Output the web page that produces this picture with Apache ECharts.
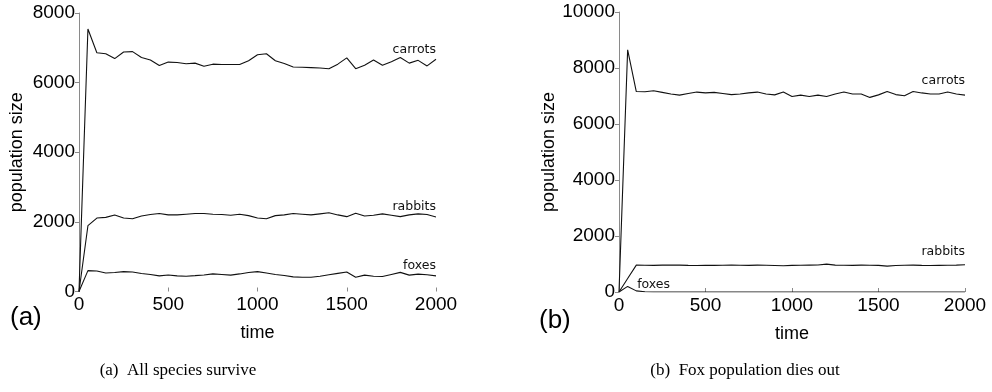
<!DOCTYPE html>
<html>
<head>
<meta charset="utf-8">
<script src="https://cdn.jsdelivr.net/npm/echarts@6/dist/echarts.min.js"></script>
<style>
  html, body { margin: 0; padding: 0; background: #fff; }
  #chart { width: 992px; height: 392px; }
</style>
</head>
<body>
<div id="chart"></div>
<script>
// Simulation time steps shared by both runs
const time = [0, 50, 100, 150, 200, 250, 300, 350, 400, 450, 500, 550, 600, 650, 700, 750, 800, 850, 900, 950,
  1000, 1050, 1100, 1150, 1200, 1250, 1300, 1350, 1400, 1450, 1500, 1550, 1600, 1650, 1700, 1750, 1800, 1850, 1900, 1950, 2000];

// Run (a): all species survive
const carrotsA = [0, 7540, 6860, 6830, 6690, 6880, 6890, 6720, 6650, 6490, 6590, 6580, 6540, 6560, 6470, 6530, 6520, 6520, 6520, 6630,
  6800, 6830, 6630, 6550, 6450, 6440, 6430, 6420, 6400, 6530, 6710, 6400, 6500, 6650, 6500, 6600, 6720, 6560, 6640, 6480, 6670];
const rabbitsA = [0, 1890, 2110, 2130, 2200, 2110, 2090, 2170, 2210, 2240, 2200, 2200, 2220, 2240, 2240, 2220, 2210, 2190, 2220, 2180,
  2110, 2090, 2180, 2200, 2240, 2220, 2200, 2230, 2260, 2200, 2150, 2250, 2170, 2190, 2230, 2190, 2150, 2200, 2230, 2210, 2140];
const foxesA = [0, 600, 590, 530, 545, 570, 560, 515, 490, 450, 475, 450, 440, 455, 475, 505, 490, 470, 505, 545,
  570, 530, 490, 460, 420, 410, 410, 440, 480, 520, 560, 410, 470, 440, 430, 490, 550, 470, 500, 480, 450];

// Run (b): fox population dies out
const carrotsB = [0, 8650, 7160, 7150, 7185, 7130, 7070, 7030, 7090, 7140, 7110, 7130, 7090, 7050, 7070, 7110, 7140, 7070, 7040, 7140,
  6980, 7030, 6980, 7030, 6980, 7070, 7140, 7070, 7070, 6950, 7040, 7160, 7050, 7010, 7160, 7110, 7070, 7070, 7140, 7070, 7030];
const rabbitsB = [0, 480, 960, 955, 950, 960, 965, 960, 950, 945, 955, 950, 955, 960, 955, 950, 960, 955, 945, 935,
  950, 955, 960, 965, 995, 960, 955, 950, 960, 955, 950, 925, 945, 955, 960, 950, 945, 950, 955, 960, 975];
const foxesB = [0, 200, 40, 10, 0, 0, 0, 0, 0, 0, 0, 0, 0, 0, 0, 0, 0, 0, 0, 0,
  0, 0, 0, 0, 0, 0, 0, 0, 0, 0, 0, 0, 0, 0, 0, 0, 0, 0, 0, 0, 0];

const xTicks = [0, 500, 1000, 1500, 2000];
const yTicksA = [0, 2000, 4000, 6000, 8000];
const yTicksB = [0, 2000, 4000, 6000, 8000, 10000];

const speciesNames = ['carrots', 'rabbits', 'foxes'];
const captions = ['(a)  All species survive', '(b)  Fox population dies out'];
const panelTags = ['(a)', '(b)'];

const SANS = 'Liberation Sans';
const LINE = '#111';
const AXIS = '#8a8a8a';

// Attach a small name tag to one point of a series
function withTag(values, idx, text, opts) {
  return values.map((v, i) => {
    const pt = [time[i], v];
    if (i !== idx) return pt;
    return {
      value: pt,
      label: Object.assign({
        show: true,
        formatter: text,
        position: 'top',
        fontFamily: 'DejaVu Sans',
        fontSize: 12.5,
        color: '#111'
      }, opts)
    };
  });
}

function lineSeries(gi, values, tagIdx, tagText, tagOpts) {
  return {
    type: 'line',
    xAxisIndex: gi,
    yAxisIndex: gi,
    data: withTag(values, tagIdx, tagText, tagOpts),
    showSymbol: true,
    symbol: 'circle',
    symbolSize: 1,
    itemStyle: { color: 'rgba(0,0,0,0)' },
    animation: false,
    silent: true,
    label: { show: false },
    labelLayout: { hideOverlap: false },
    lineStyle: { color: LINE, width: 1.1 },
    z: 3
  };
}

const plainNum = v => String(v);

function xAxisFor(gi) {
  return {
    gridIndex: gi,
    type: 'value',
    min: xTicks[0],
    max: xTicks[xTicks.length - 1],
    interval: xTicks[1] - xTicks[0],
    name: 'time',
    nameLocation: 'middle',
    nameGap: 33,
    nameTextStyle: { fontFamily: SANS, fontSize: 18, color: '#000' },
    axisLine: { show: false },
    axisTick: { show: true, inside: true, length: 4, lineStyle: { color: AXIS } },
    axisLabel: { fontFamily: SANS, fontSize: 19, color: '#000', margin: 4, formatter: plainNum },
    splitLine: { show: false }
  };
}

function yAxisFor(gi, ticks) {
  return {
    gridIndex: gi,
    type: 'value',
    min: ticks[0],
    max: ticks[ticks.length - 1],
    interval: ticks[1] - ticks[0],
    name: 'population size',
    nameLocation: 'middle',
    nameGap: 53,
    nameTextStyle: { fontFamily: SANS, fontSize: 18, color: '#000' },
    axisLine: { show: true, lineStyle: { color: AXIS, width: 1 } },
    axisTick: { show: true, inside: false, length: 4, lineStyle: { color: AXIS } },
    axisLabel: { fontFamily: SANS, fontSize: 19, color: '#000', margin: 4, formatter: plainNum },
    splitLine: { show: false }
  };
}

const last = time.length - 1;
const endTag = { align: 'right', distance: 3 };

const option = {
  backgroundColor: '#fff',
  animation: false,
  grid: [
    { left: 79, top: 13, width: 357, height: 278.5 },
    { left: 619, top: 12, width: 346, height: 280 }
  ],
  xAxis: [xAxisFor(0), xAxisFor(1)],
  yAxis: [yAxisFor(0, yTicksA), yAxisFor(1, yTicksB)],
  series: [
    lineSeries(0, carrotsA, last, speciesNames[0], endTag),
    lineSeries(0, rabbitsA, last, speciesNames[1], endTag),
    lineSeries(0, foxesA, last, speciesNames[2], endTag),
    lineSeries(1, carrotsB, last, speciesNames[0], { align: 'right', distance: 7 }),
    lineSeries(1, rabbitsB, last, speciesNames[1], { align: 'right', distance: 6 }),
    lineSeries(1, foxesB, 4, speciesNames[2], { align: 'center', distance: 0 })
  ],
  graphic: [
    { type: 'text', left: 10, top: 305, style: { text: panelTags[0], font: '26px "Liberation Sans"', fill: '#000' } },
    { type: 'text', left: 539, top: 308, style: { text: panelTags[1], font: '26px "Liberation Sans"', fill: '#000' } },
    { type: 'text', x: 178, y: 371, style: { text: captions[0], font: '17px "Liberation Serif"', fill: '#000', textAlign: 'center', textVerticalAlign: 'middle' } },
    { type: 'text', x: 745, y: 371, style: { text: captions[1], font: '17px "Liberation Serif"', fill: '#000', textAlign: 'center', textVerticalAlign: 'middle' } }
  ]
};

const chart = echarts.init(document.getElementById('chart'), null, { renderer: 'canvas' });
chart.setOption(option);
</script>
</body>
</html>
